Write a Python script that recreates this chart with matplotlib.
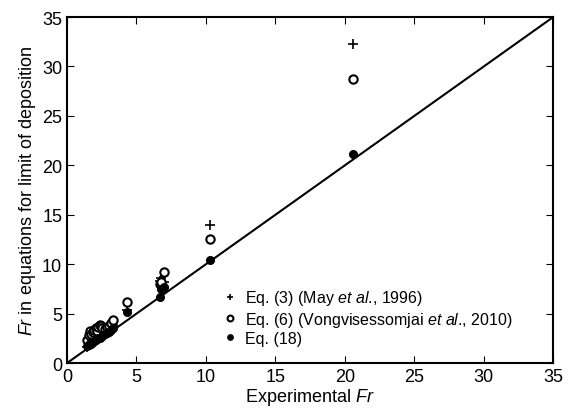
import matplotlib

matplotlib.use("Agg")
import matplotlib.pyplot as plt

plt.rcParams["font.family"] = ["Liberation Sans", "DejaVu Sans"]
plt.rcParams["mathtext.fontset"] = "custom"
plt.rcParams["mathtext.rm"] = "Liberation Sans"
plt.rcParams["mathtext.it"] = "Liberation Sans:italic"

# experimental Fr
fr_exp = [1.45, 1.55, 1.65, 1.75, 1.85, 1.95, 2.05, 2.15, 2.25, 2.35, 2.45,
          2.55, 2.7, 2.85, 3.0, 3.15, 3.3, 4.3, 6.7, 6.8, 7.0, 10.3, 20.6]
# Eq. (3) May et al., 1996
fr_may = [1.6, 2.0, 2.4, 2.2, 2.6, 2.5, 2.9, 2.7, 3.1, 3.0, 3.3,
          3.1, 3.2, 3.4, 3.5, 3.7, 3.9, 5.4, 8.3, 8.6, 8.2, 14.0, 32.3]
# Eq. (6) Vongvisessomjai et al., 2010
fr_vong = [2.3, 2.8, 3.2, 2.9, 3.1, 3.3, 3.5, 3.2, 3.6, 3.9, 3.7,
           3.5, 3.4, 3.6, 3.8, 4.1, 4.4, 6.2, 8.0, 8.2, 9.2, 12.5, 28.7]
# Eq. (18)
fr_eq18 = [1.7, 1.8, 2.0, 1.9, 2.1, 2.2, 2.3, 2.4, 2.5, 2.5, 2.6,
           2.7, 2.9, 3.0, 3.1, 3.3, 3.5, 5.2, 6.7, 7.5, 7.7, 10.4, 21.1]

fig = plt.figure(figsize=(5.68, 4.10), dpi=100)
ax = fig.add_axes([0.118, 0.112, 0.856, 0.844])

ax.plot([0, 35], [0, 35], color="black", lw=1.5, zorder=1)
ax.plot(fr_exp, fr_may, "+", color="black", ms=7, mew=1.2,
        label=r"Eq. (3) (May $\it{et\ al}$., 1996)")
ax.plot(fr_exp, fr_vong, "o", mfc="white", mec="black", ms=6, mew=1.5,
        label=r"Eq. (6) (Vongvisessomjai $\it{et\ al}$., 2010)")
ax.plot(fr_exp, fr_eq18, "o", color="black", ms=5.5,
        label="Eq. (18)")

ax.set_xlim(0, 35)
ax.set_ylim(0, 35)
ax.set_xticks(range(0, 36, 5))
ax.set_yticks(range(0, 36, 5))
ax.tick_params(direction="in", top=True, right=True, labelsize=13, length=5)
for s in ax.spines.values():
    s.set_linewidth(1.5)

ax.set_xlabel(r"Experimental $\it{Fr}$", fontsize=13, labelpad=1)
ax.set_ylabel(r"$\it{Fr}$ in equations for limit of deposition", fontsize=13, labelpad=3)

ax.legend(loc="upper left", bbox_to_anchor=(0.31, 0.235), frameon=False,
          fontsize=11.5, handlelength=0.7, handletextpad=0.6, markerscale=0.7,
          labelspacing=0.15, borderaxespad=0)

fig.savefig("out.png", dpi=100)
plt.close(fig)
